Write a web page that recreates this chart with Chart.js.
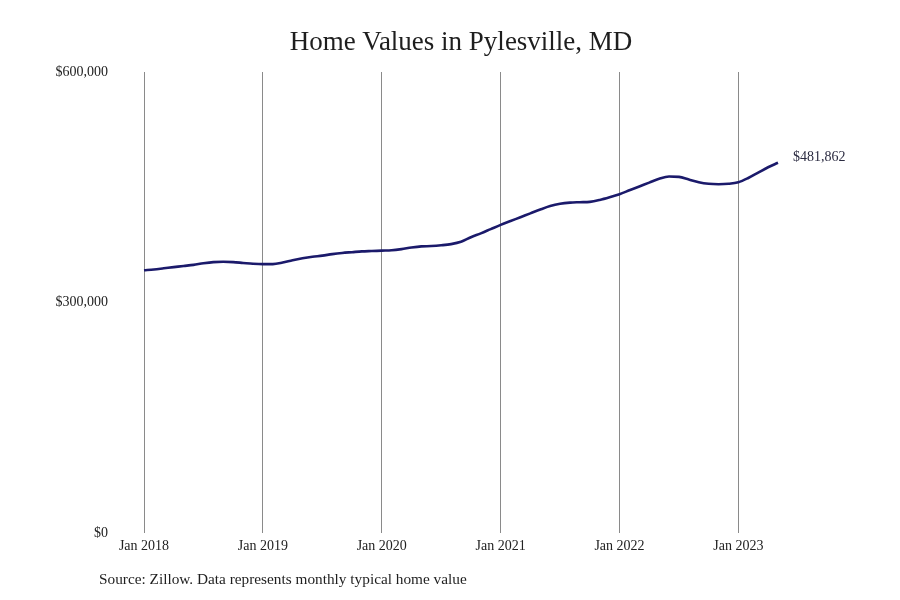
<!DOCTYPE html>
<html>
<head>
<meta charset="utf-8">
<script src="https://cdn.jsdelivr.net/npm/chart.js@4/dist/chart.umd.min.js"></script>
<style>
  body { margin: 0; background: #fff; }
  canvas { display: block; }
</style>
</head>
<body>
<canvas id="homeChart" width="900" height="600"></canvas>
<script>
// monthly typical home value, Jan 2018 - May 2023 (thousands)
const years = [2018, 2019, 2020, 2021, 2022, 2023];
const monthNames = ['Jan','Feb','Mar','Apr','May','Jun','Jul','Aug','Sep','Oct','Nov','Dec'];
const values2018 = [342, 343, 344.5, 346, 347.5, 349, 351, 352.5, 353, 352.5, 351.5, 350.5];
const values2019 = [350, 350, 352, 355, 357.5, 359.5, 361, 363, 364.5, 365.5, 366.5, 367];
const values2020 = [367.5, 368, 369.5, 371.5, 373, 373.5, 374.5, 376, 379, 385, 390, 395.5];
const values2021 = [401, 406, 411, 416, 421, 425.5, 428.5, 430, 430.5, 431, 433.5, 437];
const values2022 = [441, 446, 451, 456, 461, 464, 463.5, 460, 456.5, 454.5, 454, 454.5];
const values2023 = [456.5, 462, 469, 476, 481.862];
const yTicks = [0, 300000, 600000];
const chartTitle = 'Home Values in Pylesville, MD';
const sourceNote = 'Source: Zillow. Data represents monthly typical home value';
const lastLabel = '$481,862';

const series = [values2018, values2019, values2020, values2021, values2022, values2023];
const labels = [];
const values = [];
series.forEach((arr, i) => {
  arr.forEach((v, m) => {
    labels.push(monthNames[m] + ' ' + years[i]);
    values.push(v * 1000);
  });
});

const serif = "'Liberation Serif', 'DejaVu Serif', serif";

const extras = {
  id: 'extras',
  afterDraw(chart) {
    const c = chart.ctx;
    c.save();
    c.fillStyle = '#1e1e1e';
    c.font = '27px ' + serif;
    c.textAlign = 'center';
    c.textBaseline = 'middle';
    c.fillText(chartTitle, 461, 43);

    c.font = '15.3px ' + serif;
    c.textAlign = 'left';
    c.fillText(sourceNote, 99, 580);

    const meta = chart.getDatasetMeta(0);
    const last = meta.data[meta.data.length - 1];
    c.fillStyle = '#2a2a40';
    c.font = '14px ' + serif;
    c.fillText(lastLabel, last.x + 15, last.y - 5);
    c.restore();
  }
};

const ctx = document.getElementById('homeChart');

new Chart(ctx, {
  type: 'line',
  data: {
    labels: labels,
    datasets: [{
      data: values,
      borderColor: '#1b1a6b',
      borderWidth: 2.6,
      pointRadius: 0,
      tension: 0.4,
      cubicInterpolationMode: 'monotone',
      fill: false
    }]
  },
  options: {
    responsive: false,
    animation: false,
    layout: { padding: { top: 72, right: 122, bottom: 0, left: 0 } },
    plugins: {
      legend: { display: false },
      title: { display: false },
      tooltip: { enabled: false }
    },
    scales: {
      x: {
        type: 'category',
        offset: false,
        border: { display: false },
        grid: {
          drawTicks: false,
          color: (c) => (c.index % 12 === 0 ? '#8a8a8a' : 'rgba(0,0,0,0)'),
          lineWidth: 1
        },
        ticks: {
          autoSkip: false,
          maxRotation: 0,
          padding: 5,
          color: '#222',
          font: { family: serif, size: 14 },
          callback: function(val, i) { return i % 12 === 0 ? this.getLabelForValue(val) : ''; }
        },
        afterFit: (s) => { s.height = 67; }
      },
      y: {
        min: 0,
        max: 600000,
        border: { display: false },
        grid: { display: false, drawTicks: false },
        afterBuildTicks: (s) => { s.ticks = yTicks.map(v => ({ value: v })); },
        ticks: {
          padding: 36,
          color: '#222',
          font: { family: serif, size: 14 },
          callback: (v) => '$' + v.toLocaleString('en-US')
        },
        afterFit: (s) => { s.width = 144; }
      }
    }
  },
  plugins: [extras]
});
</script>
</body>
</html>
